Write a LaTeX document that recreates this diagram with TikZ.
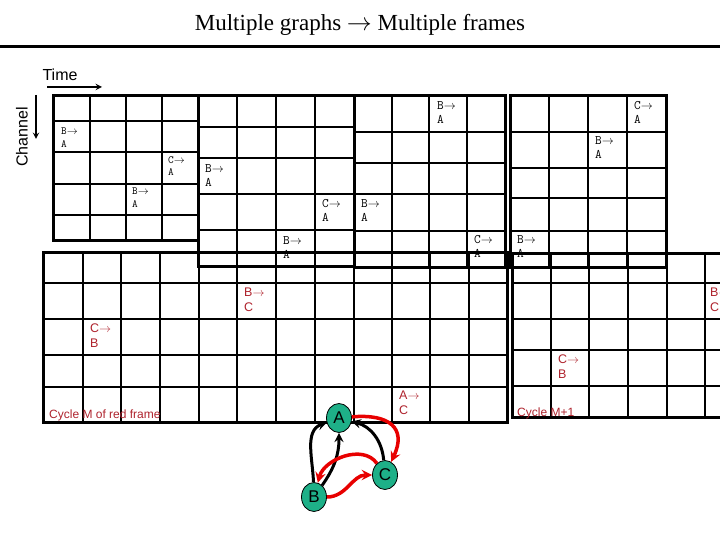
\documentclass[tikz,border=0pt]{standalone}
\usepackage{fontspec}
\setmainfont{Liberation Serif}
\setsansfont{Liberation Sans}
\newcommand{\toarrow}{\ensuremath{\rightarrow}}
\usetikzlibrary{shapes.geometric}

\definecolor{cellred}{RGB}{175,35,45}
\definecolor{edgered}{RGB}{232,0,0}
\definecolor{vtxgreen}{RGB}{30,176,136}

\begin{document}
\begin{tikzpicture}[>=stealth,x=1pt,y=1pt,
    gline/.style={line width=2pt},
    fline/.style={line width=3pt},
    lbl/.style={anchor=north west,inner sep=0pt,align=left,font=\ttfamily\fontsize{13}{14.5}\selectfont},
    smalllbl/.style={lbl,font=\ttfamily\fontsize{11}{12.5}\selectfont},
    redlbl/.style={lbl,text=cellred,font=\sffamily\fontsize{12.5}{14.5}\selectfont},
    cyclbl/.style={anchor=west,inner sep=0pt,text=cellred,font=\sffamily\fontsize{12}{14}\selectfont},
    vtx/.style={ellipse,draw=black,line width=0.8pt,fill=vtxgreen,minimum width=25pt,minimum height=29pt,inner sep=0pt,font=\sffamily\fontsize{17}{17}\selectfont},
    blk/.style={->,line width=3pt},
    rd/.style={->,line width=3.5pt,edgered}]
    \useasboundingbox (0,0) rectangle (720,-540);
    \fill[white] (0,0) rectangle (720,-540);
    \clip (0,0) rectangle (720,-540);

    % title
    \node (title) at (360,-25) {\fontsize{23}{26}\selectfont Multiple graphs \toarrow{} Multiple frames};
    \draw[line width=3pt] (0,-47) -- (720,-47);

    % axes
    \node[font=\sffamily\fontsize{16}{16}\selectfont] (time) at (60,-75) {Time};
    \coordinate (t0) at (47,-87);
    \coordinate (t1) at (102,-87);
    \draw[->,line width=1.8pt] (t0) -- (t1);
    \node[rotate=90,font=\sffamily\fontsize{16}{16}\selectfont] (chan) at (22,-137) {Channel};
    \coordinate (c0) at (36,-95);
    \coordinate (c1) at (36,-139);
    \draw[->,line width=1.8pt] (c0) -- (c1);

    % upper frames
    \foreach \x in {90,126,162} \draw[gline] (\x,-96) -- (\x,-240);
    \foreach \y in {121,152,184,215} \draw[gline] (53,-\y) -- (198,-\y);
    \draw[fline] (53,-96) rectangle (198,-240);

    \foreach \x in {237,276,315} \draw[gline] (\x,-96) -- (\x,-266);
    \foreach \y in {127,158,194,230} \draw[gline] (198,-\y) -- (354,-\y);
    \draw[fline] (198,-96) rectangle (354,-266);

    \foreach \x in {392,429,467} \draw[gline] (\x,-96) -- (\x,-267);
    \foreach \y in {132,163,194,231} \draw[gline] (354,-\y) -- (505,-\y);
    \draw[fline] (354,-96) rectangle (505,-267);

    \foreach \x in {549,588,627} \draw[gline] (\x,-96) -- (\x,-267);
    \foreach \y in {132,168,198,231} \draw[gline] (510,-\y) -- (666,-\y);
    \draw[fline] (510,-96) rectangle (666,-267);
    \fill (505,-252) rectangle (510,-267);

    \node[smalllbl] (fa1) at (61,-128) {B\toarrow\\A};
    \node[smalllbl] (fa2) at (168,-156) {C\toarrow\\A};
    \node[smalllbl] (fa3) at (132,-188) {B\toarrow\\A};
    \node[lbl] (fb1) at (205,-164) {B\toarrow\\A};
    \node[lbl] (fb2) at (322,-199) {C\toarrow\\A};
    \node[lbl] (fb3) at (283,-236) {B\toarrow\\A};
    \node[lbl] (fc1) at (437,-101) {B\toarrow\\A};
    \node[lbl] (fc2) at (361,-199) {B\toarrow\\A};
    \node[lbl] (fc3) at (474,-235) {C\toarrow\\A};
    \node[lbl] (fd1) at (634,-101) {C\toarrow\\A};
    \node[lbl] (fd2) at (595,-136) {B\toarrow\\A};
    \node[lbl] (fd3) at (517,-235) {B\toarrow\\A};

    % lower frames
    \foreach \x in {83,121,160,199,237,276,315,354,392,430,469} \draw[gline] (\x,-252) -- (\x,-422);
    \foreach \y in {283,319,355,387} \draw[gline] (43,-\y) -- (507,-\y);
    \draw[fline] (43,-252) rectangle (507,-422);

    \foreach \x in {551,589,628,667,705} \draw[gline] (\x,-253) -- (\x,-417);
    \foreach \y in {283,319,350,386} \draw[gline] (512,-\y) -- (750,-\y);
    \draw[fline] (512,-253) rectangle (750,-417);

    \node[redlbl] (ra1) at (244,-288) {B\toarrow\\C};
    \node[redlbl] (ra2) at (90,-324) {C\toarrow\\B};
    \node[redlbl] (ra3) at (399,-391) {A\toarrow\\C};
    \node[redlbl] (rb1) at (710,-288) {B\toarrow\\C};
    \node[redlbl] (rb2) at (558,-355) {C\toarrow\\B};
    \node[cyclbl] (cyc1) at (49,-415) {Cycle M of red frame};
    \node[cyclbl] (cyc2) at (517,-413) {Cycle M+1};

    % graph
    \node[vtx] (A) at (339,-418) {A};
    \node[vtx] (B) at (314,-497) {B};
    \node[vtx] (C) at (385,-475) {C};
    \draw[blk] (B) to[out=92,in=200] (A);
    \draw[blk] (B) to[out=55,in=-90] (A);
    \draw[blk] (C) to[out=95,in=-15] (A);
    \draw[rd] (A) to[out=5,in=65,looseness=1.6] (C);
    \draw[rd] (C) to[out=125,in=75] (B);
    \draw[rd] (B) to[out=0,in=180] (C);
\end{tikzpicture}
\end{document}
